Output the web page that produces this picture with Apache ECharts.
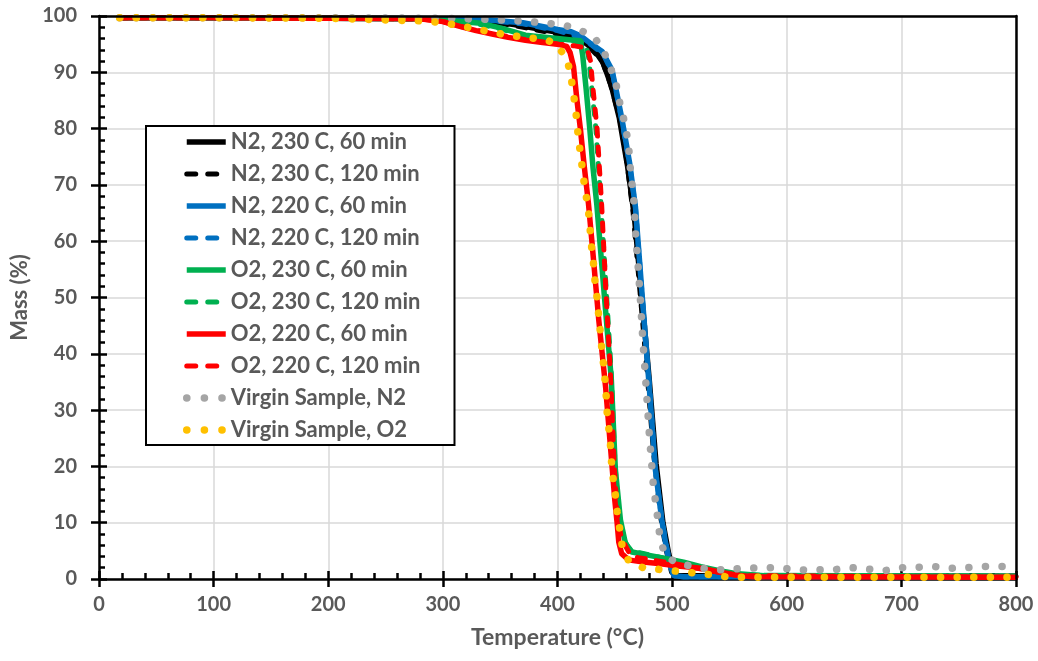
<!DOCTYPE html>
<html><head><meta charset="utf-8">
<script src="https://cdn.jsdelivr.net/npm/echarts@6/dist/echarts.min.js"></script>
<style>html,body{margin:0;padding:0;background:#fff}#c{width:1038px;height:661px}</style>
</head><body><div id="c"></div>
<script>
// Axis ranges / ticks
const xMin = 0, xMax = 800, xStep = 100;
const yMin = 0, yMax = 100, yStep = 10;
const xTitle = 'Temperature (°C)';
const yTitle = 'Mass (%)';

const seriesNames = [
  'N2, 230 C, 60 min', 'N2, 230 C, 120 min',
  'N2, 220 C, 60 min', 'N2, 220 C, 120 min',
  'O2, 230 C, 60 min', 'O2, 230 C, 120 min',
  'O2, 220 C, 60 min', 'O2, 220 C, 120 min',
  'Virgin Sample, N2', 'Virgin Sample, O2'
];

// [temperature °C, mass %]
const n2_230_60 = [[18,99.7],[100,99.7],[200,99.6],[300,99.5],[333,99.3],[362,98.5],[400,97.1],[420,95.9],[432,94.0],[440,91.6],[447,87.6],[454,81.8],[461,73.5],[467,64.5],[474,49],[480,35.5],[486,20.5],[492,10],[497,4.5],[501,1.4],[505,0.6],[560,0.5],[800,0.5]];
const n2_230_120 = [[18,99.7],[100,99.7],[200,99.6],[300,99.5],[333,99.2],[362,98.3],[400,96.8],[420,95.5],[430,94.0],[439,92.0],[446,88.0],[454,82.1],[460,75],[466,65],[472,51],[478,37],[484,22],[490,11],[495,5],[499.5,1.2],[505,0.6],[560,0.5],[800,0.5]];
const n2_220_60 = [[18,99.7],[100,99.7],[200,99.6],[300,99.5],[340,99.3],[370,98.8],[400,97.6],[412,97.2],[420,96.5],[429,95.1],[439,93.7],[447.6,90.4],[452,86],[456.4,81.5],[463,73.8],[468,66.1],[474,50],[479.6,35.3],[485.4,19.4],[491,10.5],[495,5.5],[498,2.5],[501.5,0.6],[510,0.4],[800,0.4]];
const n2_220_120 = [[18,99.7],[100,99.7],[200,99.6],[300,99.5],[340,99.2],[370,98.6],[400,97.4],[420,96.2],[430,94.8],[440,93.2],[448,89.8],[456,81.5],[463,73.5],[468,66],[474,50],[480,35],[485.5,19.5],[491,10.5],[497,4],[501.5,0.5],[510,0.4],[800,0.4]];
const o2_230_60 = [[18,99.7],[100,99.7],[200,99.6],[280,99.5],[310,99.1],[333,98.7],[350,97.9],[372,96.6],[400,96],[410,95.8],[420,95.6],[422,93],[425,87],[428.2,79.9],[431,73],[434.3,66.5],[441,50],[447,35.3],[450.5,19.4],[454.9,10.5],[459.3,6.3],[465,4.8],[480,4.2],[495,3.6],[510,3],[525,2.2],[540,1.5],[555,1.0],[580,0.6],[800,0.5]];
const o2_230_120 = [[18,99.7],[100,99.7],[200,99.6],[280,99.5],[310,99.0],[333,98.5],[350,97.7],[372,96.5],[400,95.8],[415,95.5],[424,95.2],[427,93],[430,87],[433.5,80],[437.5,68],[442,53],[446.8,37],[450,21],[452.5,13],[455,9],[458,7],[462,5.5],[468,4.8],[480,4.3],[495,3.6],[510,2.9],[525,2.1],[540,1.4],[555,0.9],[580,0.6],[800,0.5]];
const o2_220_60 = [[18,99.7],[100,99.7],[200,99.6],[280,99.5],[300,99.0],[314,98.2],[329,97.4],[343,96.8],[357,96.2],[372,95.7],[387,95.3],[400,95],[408,94.6],[411,93.5],[414,91],[417,85],[420,79.9],[423.5,73],[427,66.7],[430,60],[433,53],[436,46],[439,40],[442,34],[444,29],[446,24],[448,19],[450,14],[452,10],[453.5,6.5],[456,4.5],[462,3.4],[475,3.0],[490,2.7],[505,2.3],[525,1.9],[540,1.3],[555,0.7],[570,0.4],[800,0.3]];
const o2_220_120 = [[18,99.7],[100,99.7],[200,99.6],[280,99.5],[300,99.0],[314,98.2],[329,97.5],[343,96.9],[357,96.3],[372,95.8],[387,95.4],[400,95],[415,94.7],[425.8,94.3],[428.8,92],[431,87],[434.5,80],[438.5,66.5],[442,52],[446.2,36.5],[449.5,20],[452,12],[455,8],[459,6],[463,4.5],[470,3.8],[485,3.3],[500,2.8],[515,2.2],[530,1.6],[545,1.0],[560,0.6],[800,0.3]];
const virgin_n2 = [[18,99.7],[100,99.7],[200,99.7],[300,99.6],[340,99.4],[376.5,99.0],[391,98.7],[405.5,98.4],[420,97.5],[433,96],[441,93.4],[447,90.4],[451.4,87.6],[454.3,84.6],[457.8,81.7],[460.7,78.7],[462.5,75.8],[463.6,72.8],[466.8,66.8],[468.3,60.8],[470.6,54.8],[472.6,48.8],[474.3,42.9],[476.4,36.8],[478.4,30.9],[480.4,24.8],[481.6,21.8],[483.9,15.9],[486.3,12.8],[487.8,9.9],[489.8,6.9],[494.1,4.1],[504.5,2.8],[518.8,2.2],[532.7,1.7],[547.3,1.6],[560,1.9],[588,2.0],[615,1.6],[643,1.7],[657,2.0],[686,1.5],[700,2.0],[729,2.2],[744,1.9],[773,2.2],[800,2.2]];
const virgin_o2 = [[18,99.7],[100,99.7],[200,99.6],[285,99.1],[300,98.8],[314,98.3],[329,97.7],[343,97.1],[357,96.6],[372,96.2],[387,95.9],[398,95.2],[408,92.5],[411.5,89.6],[413.6,86.6],[415.7,83.7],[417.1,80.6],[418.6,77.7],[420.6,74.7],[422.4,71.6],[424.4,68.7],[426.7,66],[428.2,62.9],[429.3,59.7],[431.1,56.8],[432.2,53.8],[434,50.9],[435.5,47.8],[436.9,44.8],[438.3,41.7],[439.8,38.8],[441.2,35.9],[442.4,32.8],[443.2,29.8],[444.7,26.9],[446.2,23.8],[447,21],[448.5,17.9],[450.5,14.9],[452,12],[454.3,8.9],[456.3,6],[462.1,3.2],[474.6,2.0],[489,1.7],[503.6,1.4],[518,1.1],[532.7,0.8],[547,0.4],[560,0.3],[800,0.3]];

const seriesData = [n2_230_60, n2_230_120, n2_220_60, n2_220_120, o2_230_60, o2_230_120, o2_220_60, o2_220_120, virgin_n2, virgin_o2];
const seriesColors = ['#000000','#000000','#0070C0','#0070C0','#00B050','#00B050','#FF0000','#FF0000','#A5A5A5','#FFC000'];
const seriesKinds = ['solid','dash','solid','dash','solid','dash','solid','dash','dot','dot'];

const FONT = 'Lato';
const TXT = '#595959';

function lineStyleFor(kind, color) {
  if (kind === 'dash') return {color, width: 5, type: [8, 11], cap: 'round', join: 'round'};
  if (kind === 'dot') return {color, width: 7.5, type: [0.1, 16.5], cap: 'round', join: 'round'};
  return {color, width: 5.5, type: 'solid', cap: 'butt', join: 'round'};
}

const series = seriesNames.map((name, i) => ({
  name, type: 'line', data: seriesData[i],
  symbol: 'none', showSymbol: false, animation: false,
  lineStyle: lineStyleFor(seriesKinds[i], seriesColors[i]),
  itemStyle: {color: seriesColors[i]},
  emphasis: {disabled: true},
  z: 2 + i * 0.01
}));

const legendData = seriesNames.map((name, i) => {
  if (seriesKinds[i] === 'dash') return {name, lineStyle: {type: [9, 12], cap: 'round'}};
  if (seriesKinds[i] === 'dot') return {name, lineStyle: {type: [0.1, 17.5], cap: 'round'}};
  return {name};
});

const frameAxis = {
  type: 'value', axisLabel: {show: false}, splitLine: {show: false}, axisTick: {show: false},
  axisLine: {show: true, onZero: false, lineStyle: {color: '#000', width: 2.5}}, z: 5
};

const chart = echarts.init(document.getElementById('c'), null, {renderer: 'canvas'});
chart.setOption({
  animation: false,
  backgroundColor: '#fff',
  grid: {left: 99, right: 22, top: 16, bottom: 82, containLabel: false},
  legend: {
    data: legendData, orient: 'vertical', left: 146, top: 126,
    itemWidth: 39, itemHeight: 14, itemGap: 10,
    padding: [5, 34, 4, 37],
    backgroundColor: '#fff', borderColor: '#000', borderWidth: 2,
    selectedMode: false,
    itemStyle: {opacity: 0},
    lineStyle: {width: 'inherit', type: 'inherit', cap: 'inherit'},
    textStyle: {color: TXT, fontFamily: FONT, fontWeight: 'bold', fontSize: 22}
  },
  xAxis: [{
    type: 'value', min: xMin, max: xMax, interval: xStep,
    name: xTitle, nameLocation: 'middle', nameGap: 47,
    nameTextStyle: {color: TXT, fontFamily: FONT, fontWeight: 'bold', fontSize: 23},
    axisLine: {show: true, onZero: false, lineStyle: {color: '#000', width: 2.5}},
    axisTick: {show: true, inside: true, length: 8, lineStyle: {color: '#000', width: 2.5}},
    minorTick: {show: true, splitNumber: 5, length: 6, lineStyle: {color: '#000', width: 2.5}},
    axisLabel: {color: TXT, fontFamily: FONT, fontWeight: 'bold', fontSize: 20, margin: 16},
    splitLine: {show: true, lineStyle: {color: '#D9D9D9', width: 1.5}}
  }, {
    type: 'value', min: xMin, max: xMax, interval: xStep, position: 'bottom',
    axisLine: {show: false}, axisLabel: {show: false}, splitLine: {show: false},
    axisTick: {show: true, inside: false, length: 8, lineStyle: {color: '#000', width: 2.5}}
  }, Object.assign({min: xMin, max: xMax, position: 'top'}, frameAxis)],
  yAxis: [{
    type: 'value', min: yMin, max: yMax, interval: yStep,
    name: yTitle, nameLocation: 'middle', nameGap: 62, nameRotate: 90,
    nameTextStyle: {color: TXT, fontFamily: FONT, fontWeight: 'bold', fontSize: 22},
    axisLine: {show: true, onZero: false, lineStyle: {color: '#000', width: 2.5}},
    axisTick: {show: true, inside: true, length: 8, lineStyle: {color: '#000', width: 2.5}},
    minorTick: {show: true, splitNumber: 5, length: 6, lineStyle: {color: '#000', width: 2.5}},
    axisLabel: {color: TXT, fontFamily: FONT, fontWeight: 'bold', fontSize: 20, margin: 22},
    splitLine: {show: true, lineStyle: {color: '#D9D9D9', width: 1.5}}
  }, {
    type: 'value', min: yMin, max: yMax, interval: yStep, position: 'left',
    axisLine: {show: false}, axisLabel: {show: false}, splitLine: {show: false},
    axisTick: {show: true, inside: false, length: 8, lineStyle: {color: '#000', width: 2.5}}
  }, Object.assign({min: yMin, max: yMax, position: 'right'}, frameAxis)],
  series
});
</script></body></html>
